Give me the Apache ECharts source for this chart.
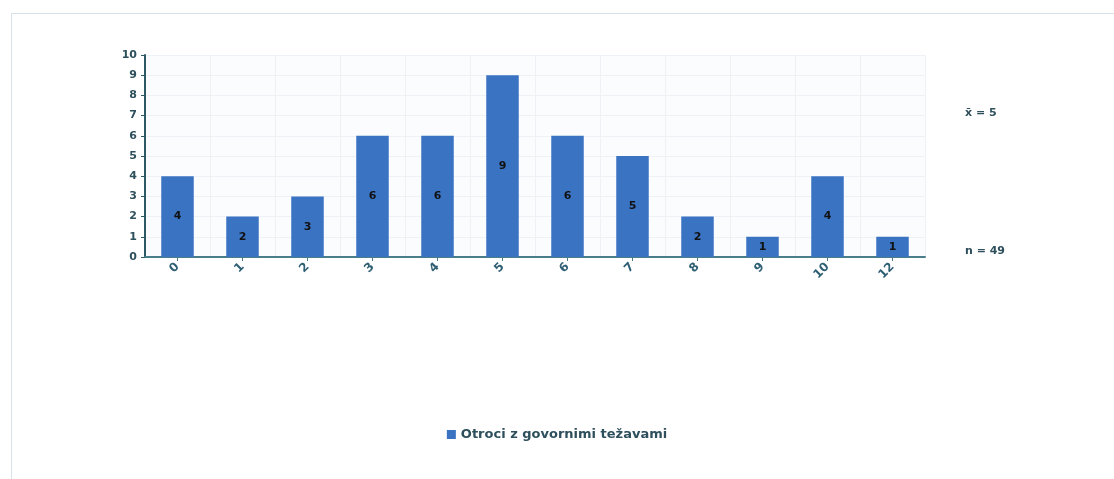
<!DOCTYPE html>
<html><head><meta charset="utf-8">
<script src="https://cdn.jsdelivr.net/npm/echarts@6/dist/echarts.min.js"></script>
<style>html,body{margin:0;padding:0;background:#fff}#c{width:1114px;height:479px}
#frame{position:absolute;left:11px;top:13px;width:1120px;height:480px;border:1px solid #d6e2ea;box-sizing:border-box;pointer-events:none}</style>
</head><body><div id="c"></div><div id="frame"></div>
<script>
const categories = ['0','1','2','3','4','5','6','7','8','9','10','12'];
const values = [4,2,3,6,6,9,6,5,2,1,4,1];
const seriesName = 'Otroci z govornimi težavami';
const meanLabel = 'x̄ = 5';
const nLabel = 'n = 49';

const chart = echarts.init(document.getElementById('c'));
chart.setOption({
  animation:false,
  grid:{left:145,right:189,top:55,bottom:222,show:true,backgroundColor:'#fafcfe',borderWidth:0},
  xAxis:{type:'category',data:categories,
    axisLine:{lineStyle:{color:'#4a7d8a',width:2}},
    axisTick:{show:true,alignWithLabel:true,length:4,lineStyle:{color:'#4a7d8a'}},
    axisLabel:{rotate:45,color:'#2e5f73',fontSize:12,fontWeight:'bold',fontFamily:'DejaVu Sans',margin:8},
    splitLine:{show:true,lineStyle:{color:'#eef2f6'}}},
  yAxis:{type:'value',min:0,max:10,interval:1,
    axisLine:{show:true,lineStyle:{color:'#2f5866',width:2}},
    axisTick:{show:true,length:4,lineStyle:{color:'#2f5866'}},
    axisLabel:{color:'#2e4f5c',fontSize:11,fontWeight:'bold',fontFamily:'DejaVu Sans',margin:8},
    splitLine:{lineStyle:{color:'#eef2f6'}}},
  legend:{bottom:33,left:'center',itemWidth:9,itemHeight:9,itemGap:10,icon:'rect',
    textStyle:{color:'#2e4f5c',fontSize:13,fontWeight:'bold',fontFamily:'DejaVu Sans'},data:[seriesName]},
  graphic:[
    {type:'text',left:965,top:108,style:{text:meanLabel,fill:'#2e4f5c',font:'bold 11px DejaVu Sans'}},
    {type:'text',left:965,top:246,style:{text:nLabel,fill:'#2e4f5c',font:'bold 11px DejaVu Sans'}}
  ],
  series:[{name:seriesName,type:'bar',data:values,barWidth:'50%',
    itemStyle:{color:'#3a73c2'},
    label:{show:true,position:'inside',color:'#111',fontSize:11,fontWeight:'bold',fontFamily:'DejaVu Sans'}}]
});
</script></body></html>
